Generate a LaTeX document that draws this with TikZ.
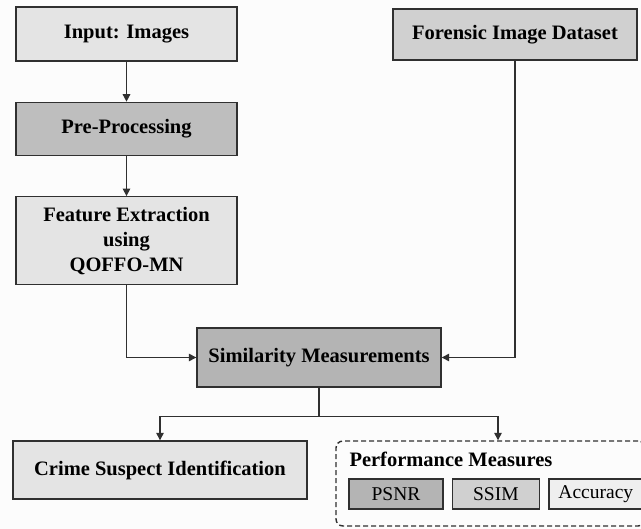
\documentclass[tikz,border=0pt]{standalone}
\usepackage{fontspec}
\setmainfont{Liberation Serif}
\usepackage{tikz}
\usetikzlibrary{positioning, arrows.meta}

\definecolor{paper}{HTML}{FCFCFC}
\definecolor{edge}{HTML}{303030}
\definecolor{lightbox}{HTML}{E4E4E4}
\definecolor{midbox}{HTML}{D0D0D0}
\definecolor{darkbox}{HTML}{B4B4B4}

\begin{document}
\begin{tikzpicture}[
    x=1pt, y=1pt,
    node distance=40pt,
    block/.style={draw=edge, line width=1.4pt, align=center, inner sep=2pt,
        font=\fontsize{20.5}{25}\selectfont\bfseries},
    metric/.style={draw=edge, line width=1.4pt, minimum height=30pt, inner sep=0pt,
        font=\fontsize{19.5}{22}\selectfont},
    arr/.style={-{Triangle[length=7.5pt, width=7.5pt]}, line width=1.4pt, draw=edge}
]
\useasboundingbox[fill=paper] (0,0) rectangle (641,-529);

% left column
\node[block, fill=lightbox, minimum width=221pt, minimum height=54pt] (input) at (126.5,-34) {Input: Images};
\node[block, fill=darkbox!80!lightbox, minimum width=221pt, minimum height=53pt, below=of input] (prep) {Pre-Processing};
\node[block, fill=lightbox, minimum width=221pt, minimum height=88pt, below=of prep] (feat) {Feature Extraction\\using\\QOFFO-MN};

% right column
\node[block, fill=midbox, minimum width=244pt, minimum height=51pt] (dataset) at (515,-34.5) {Forensic Image Dataset};

\node[block, fill=darkbox, minimum width=244pt, minimum height=59pt] (sim) at (319,-357.5) {Similarity Measurements};

% outputs
\node[block, fill=lightbox, minimum width=294pt, minimum height=58pt] (crime) at (160,-470) {Crime Suspect Identification};
\node[draw=edge, line width=1.4pt, dash pattern=on 5pt off 3pt, rounded corners=7pt,
    minimum width=309pt, minimum height=85pt] (perf) at (490.5,-483.5) {};
\node[anchor=base west, inner sep=0pt, font=\fontsize{20.5}{25}\selectfont\bfseries]
    (perftitle) at ([xshift=14pt, yshift=-26pt]perf.north west) {Performance Measures};
\node[metric, fill=darkbox, minimum width=94pt, anchor=south west]
    (psnr) at ([xshift=13pt, yshift=17pt]perf.south west) {PSNR};
\node[metric, fill=midbox, minimum width=87pt, right=8pt of psnr] (ssim) {SSIM};
\node[metric, fill=lightbox!60!white, minimum width=94pt, right=8pt of ssim] (acc) {Accuracy};

\coordinate (split) at ([yshift=-29pt]sim.south);
\coordinate (perfin) at ([xshift=7.5pt]perf.north);

\draw[arr] (input) -- (prep);
\draw[arr] (prep) -- (feat);
\draw[arr] (feat.south) |- (sim.west);
\draw[arr] (dataset.south) |- (sim.east);
\draw[line width=1.4pt, draw=edge] (sim.south) -- (split);
\draw[arr] (split) -| (crime.north);
\draw[arr] (split) -| (perfin);
\end{tikzpicture}
\end{document}
